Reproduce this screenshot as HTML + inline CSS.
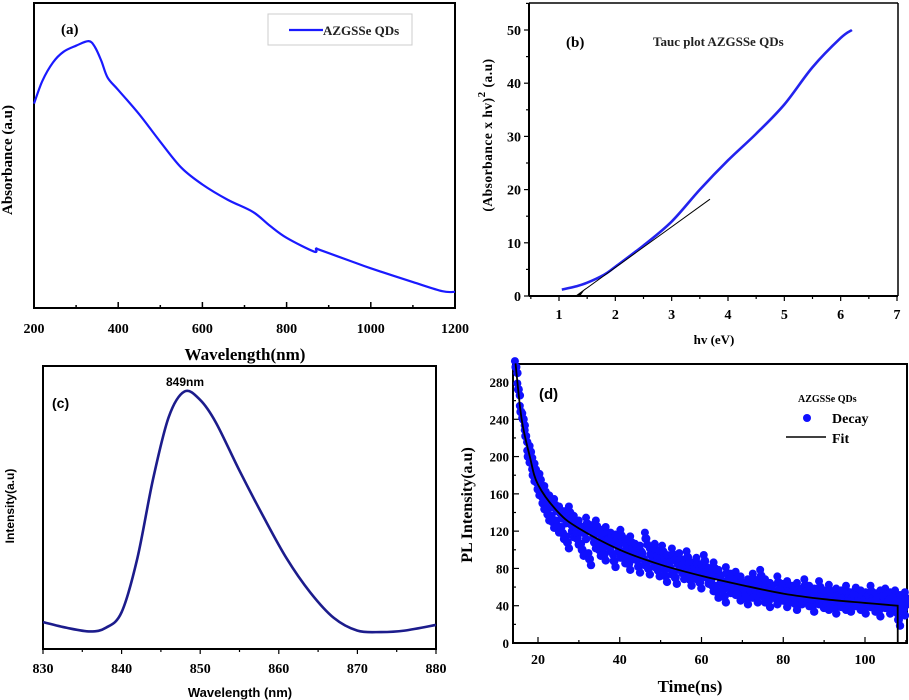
<!DOCTYPE html>
<html><head><meta charset="utf-8"><style>
html,body{margin:0;padding:0;background:#fff;}
svg{display:block;font-family:"Liberation Serif",serif;}
</style></head><body>
<svg id="fig" width="909" height="700" viewBox="0 0 909 700"></svg>
<script>
// ---- Panel (a) data ----
const absWavelengths=[200,220,245,270,300,330,345,360,375,400,450,500,550,600,660,720,760,800,865,870,880,950,1000,1100,1170,1200];
const absValues=[67,74.5,80.5,84,86,87.5,85.5,81,75.5,71.5,63.5,54.5,46,40.5,35.5,31.5,27,23,18.5,19.5,19,15.5,13,8.5,5.5,5.3];
const absXTicks=[200,400,600,800,1000,1200];
// ---- Panel (b) data ----
const taucX=[1.05,1.3,1.5,1.8,2.0,2.5,3.0,3.5,4.0,4.5,5.0,5.5,6.0,6.2];
const taucY=[1.2,1.8,2.5,4,5.5,9.5,14,20,25.5,30.5,36,43,48.5,50];
const tangentX=[1.3,3.68];
const tangentY=[0,18.2];
const taucXTicks=[1,2,3,4,5,6,7];
const taucYTicks=[0,10,20,30,40,50];
// ---- Panel (c) data ----
const plWavelengths=[830,833,836,838,840,842,844,846,848,850,852,855,858,861,864,867,870,873,876,880];
const plValues=[9.5,7.5,6.2,7.5,13,32,60,82,91,88,80,63,47,32,20,11,6.5,6,6.5,8.5];
const plXTicks=[830,840,850,860,870,880];
// ---- Panel (d) data ----
const decayTimes=[];
const decayValues=[296,272,248,240,222,200,205,180,186,165,
175,150,162,138,152,130,148,125,140,118,
135,108,140,120,130,112,125,100,118,128,
90,120,108,125,100,115,95,118,105,112,
88,110,98,115,92,105,85,108,96,100,
82,98,90,112,80,95,88,100,78,92,
98,72,88,80,95,70,85,90,75,82,
92,68,80,75,85,65,78,88,70,74,
62,80,55,72,66,50,75,60,68,58,
70,52,65,58,48,62,55,68,50,60,
72,50,62,45,58,55,48,65,52,57,
45,60,50,55,42,58,48,52,62,46,
55,40,52,48,60,44,50,42,56,47,
38,52,45,50,42,55,40,48,46,53,
42,50,38,48,45,55,40,47,35,50,
44,52,38,48,42,50,25,45,36,48];
for(let i=0;i<decayValues.length;i++){decayTimes.push(+(14.6+0.6*i).toFixed(2));}
const fitTimes=[14.5,16,18,20,25,30,40,50,60,70,80,90,100,108,108.01];
const fitValues=[300,240,200,170,140,123,100,84,72,62,53,47,43,40,0];
const decayXTicks=[20,40,60,80,100];
const decayYTicks=[0,40,80,120,160,200,240,280];

const NS="http://www.w3.org/2000/svg";
const svg=document.getElementById('fig');
function mk(tag,attrs,parent){const e=document.createElementNS(NS,tag);for(const k in attrs)e.setAttribute(k,attrs[k]);(parent||svg).appendChild(e);return e;}
function txt(s,attrs,parent){const e=mk('text',attrs,parent);e.textContent=s;return e;}
function lin(d0,d1,r0,r1){return v=>r0+(v-d0)/(d1-d0)*(r1-r0);}
function smooth(pts){let d='M'+pts[0][0]+','+pts[0][1];for(let i=0;i<pts.length-1;i++){const p0=pts[Math.max(0,i-1)],p1=pts[i],p2=pts[i+1],p3=pts[Math.min(pts.length-1,i+2)];const c1x=p1[0]+(p2[0]-p0[0])/6,c1y=p1[1]+(p2[1]-p0[1])/6,c2x=p2[0]-(p3[0]-p1[0])/6,c2y=p2[1]-(p3[1]-p1[1])/6;d+=' C'+c1x+','+c1y+' '+c2x+','+c2y+' '+p2[0]+','+p2[1];}return d;}

// ================= Panel (a) =================
{
const g=mk('g',{});


const L=34,R=455,T=3,B=308;
const x=lin(200,1200,L,R), y=lin(0,100,B,T);
const f=mk('rect',{x:L,y:T,width:R-L,height:B-T,fill:'none',stroke:'#000','stroke-width':2},g);

for(let v=200;v<=1200;v+=100){const t=mk('line',{x1:x(v),x2:x(v),y1:B,y2:B-(v%200===0?6:3),stroke:'#000','stroke-width':1.5},g);}
absXTicks.forEach(v=>{const t=txt(v,{x:x(v),y:333,'text-anchor':'middle','font-size':14,'font-weight':'bold'},g);});
const p=mk('path',{d:smooth(absWavelengths.map((w,i)=>[x(w),y(absValues[i])])),fill:'none',stroke:'#1a1aff','stroke-width':2.2},g);

const lb=mk('rect',{x:268,y:14,width:144,height:31,fill:'#fff',stroke:'#ccc','stroke-width':1},g);

const ll=mk('line',{x1:289,x2:323,y1:30,y2:30,stroke:'#1a1aff','stroke-width':2.2},g);

const lt=txt('AZGSSe QDs',{x:323,y:35,'font-size':13,'font-weight':'bold',fill:'#222'},g);

const pl=txt('(a)',{x:61,y:34,'font-size':15,'font-weight':'bold'},g);

const xt=txt('Wavelength(nm)',{x:245,y:360,'text-anchor':'middle','font-size':17,'font-weight':'bold'},g);

const yt=txt('Absorbance (a.u)',{x:0,y:0,'text-anchor':'middle','font-size':15,'font-weight':'bold',transform:'translate(12,160) rotate(-90)'},g);

}

// ================= Panel (b) =================
{
const g=mk('g',{});


const L=529,R=898,T=3,B=296;
const x=lin(1,7,559,897), y=lin(0,50,B,30);
mk('line',{x1:L,x2:R,y1:T,y2:T,stroke:'#000','stroke-width':1.5},g);
mk('line',{x1:R,x2:R,y1:T,y2:B,stroke:'#000','stroke-width':1.5},g);
const ax=mk('line',{x1:L,x2:R,y1:B,y2:B,stroke:'#000','stroke-width':2},g);

const ay=mk('line',{x1:L,x2:L,y1:T,y2:B,stroke:'#000','stroke-width':2},g);

for(let v=0.5;v<=7;v+=0.5){if(x(v)<L)continue;mk('line',{x1:x(v),x2:x(v),y1:B,y2:B+(v%1===0?5:3),stroke:'#000','stroke-width':1.2},g);}
for(let v=0;v<=55;v+=5){mk('line',{x1:L,x2:L-(v%10===0?5:3),y1:y(v),y2:y(v),stroke:'#000','stroke-width':1.2},g);}
taucXTicks.forEach(v=>{const t=txt(v,{x:x(v),y:319,'text-anchor':'middle','font-size':14,'font-weight':'bold'},g);});
taucYTicks.forEach(v=>{const t=txt(v,{x:L-8,y:y(v)+5,'text-anchor':'end','font-size':14,'font-weight':'bold'},g);});
const p=mk('path',{d:smooth(taucX.map((v,i)=>[x(v),y(taucY[i])])),fill:'none',stroke:'#2323ee','stroke-width':2.6},g);

const tl=mk('line',{x1:x(tangentX[0]),y1:y(tangentY[0]),x2:x(tangentX[1]),y2:y(tangentY[1]),stroke:'#000','stroke-width':1},g);

const ah=mk('polygon',{points:`${x(tangentX[0])},${y(0)} ${x(tangentX[0])+10},${y(0)-8} ${x(tangentX[0])+5},${y(0)-1}`,fill:'#000'},g);

const pl=txt('(b)',{x:566,y:47,'font-size':15,'font-weight':'bold'},g);

const tt=txt('Tauc plot AZGSSe QDs',{x:653,y:46,'font-size':13,'font-weight':'bold',fill:'#222'},g);

const xt=txt('hv (eV)',{x:714,y:344,'text-anchor':'middle','font-size':13,'font-weight':'bold'},g);

const yt=txt('',{x:0,y:0,'text-anchor':'middle','font-size':13.5,'font-weight':'bold','letter-spacing':'0.5',transform:'translate(492,135) rotate(-90)'},g);

const s1=mk('tspan',{},yt);s1.textContent='(Absorbance x hv)';
const s2=mk('tspan',{dy:-7,'font-size':11},yt);s2.textContent='2';
const s3=mk('tspan',{dy:7},yt);s3.textContent='  (a.u)';
}

// ================= Panel (c) =================
{
const g=mk('g',{});


const L=43,R=436,T=366,B=649;
const x=lin(830,880,L,R), y=lin(0,100,B,T);
const f=mk('rect',{x:L,y:T,width:R-L,height:B-T,fill:'none',stroke:'#000','stroke-width':2},g);

for(let v=830;v<=880;v+=5){mk('line',{x1:x(v),x2:x(v),y1:B,y2:B+(v%10===0?5:3),stroke:'#000','stroke-width':1.2},g);}
plXTicks.forEach(v=>{const t=txt(v,{x:x(v),y:673,'text-anchor':'middle','font-size':14,'font-weight':'bold'},g);});
const p=mk('path',{d:smooth(plWavelengths.map((w,i)=>[x(w),y(plValues[i])])),fill:'none',stroke:'#1c1c8c','stroke-width':2.6},g);

const sf='"Liberation Sans",sans-serif';
const pk=txt('849nm',{x:185,y:386,'text-anchor':'middle','font-size':12,'font-weight':'bold','font-family':sf},g);

const pl=txt('(c)',{x:52,y:408,'font-size':14,'font-weight':'bold','font-family':sf},g);

const xt=txt('Wavelength (nm)',{x:240,y:697,'text-anchor':'middle','font-size':13,'font-weight':'bold','font-family':sf},g);

const yt=txt('Intensity(a.u)',{x:0,y:0,'text-anchor':'middle','font-size':12,'font-weight':'bold','font-family':sf,transform:'translate(14,506) rotate(-90)'},g);

}

// ================= Panel (d) =================
{
const g=mk('g',{});


const L=513,R=907,T=364,B=643;
const x=lin(20,100,538,865), y=lin(0,280,B,382);
const f=mk('rect',{x:L,y:T,width:R-L,height:B-T,fill:'none',stroke:'#000','stroke-width':2},g);

for(let v=20;v<=110;v+=10){mk('line',{x1:x(v),x2:x(v),y1:B,y2:B-(v%20===0?6:3),stroke:'#000','stroke-width':1.2},g);}
for(let v=0;v<=290;v+=20){mk('line',{x1:L,x2:L+(v%40===0?6:3),y1:y(v),y2:y(v),stroke:'#000','stroke-width':1.2},g);}
decayXTicks.forEach(v=>{const t=txt(v,{x:x(v),y:664,'text-anchor':'middle','font-size':14,'font-weight':'bold'},g);});
decayYTicks.forEach(v=>{const t=txt(v,{x:L-4,y:y(v)+5,'text-anchor':'end','font-size':13,'font-weight':'bold'},g);});
const cg=mk('g',{},g);

decayTimes.forEach((t,i)=>{const c=mk('circle',{cx:x(t),cy:y(decayValues[i]),r:4.5,fill:'#1010ff'},cg);
const c2=mk('circle',{cx:x(t)+1.5,cy:y(decayValues[i])+6,r:4.2,fill:'#1010ff'},cg);
const c3=mk('circle',{cx:x(t)-1,cy:y(decayValues[i])-6,r:4,fill:'#1010ff'},cg);});
const fp=mk('path',{d:smooth(fitTimes.slice(0,-1).map((t,i)=>[x(t),y(fitValues[i])]))+' L'+x(fitTimes[fitTimes.length-1])+','+y(fitValues[fitValues.length-1]),fill:'none',stroke:'#000','stroke-width':1.8},g);

const pl=txt('(d)',{x:539,y:399,'font-size':15,'font-weight':'bold','font-family':'"Liberation Sans",sans-serif'},g);

const lg=txt('AZGSSe QDs',{x:798,y:402,'font-size':10,'font-weight':'bold'},g);

const ld=mk('circle',{cx:807,cy:418,r:4,fill:'#1010ff'},g);

const ldt=txt('Decay',{x:832,y:423,'font-size':14,'font-weight':'bold'},g);

const lf=mk('line',{x1:786,x2:826,y1:437,y2:437,stroke:'#000','stroke-width':1.5},g);

const lft=txt('Fit',{x:832,y:443,'font-size':14,'font-weight':'bold'},g);

const xt=txt('Time(ns)',{x:690,y:692,'text-anchor':'middle','font-size':17,'font-weight':'bold'},g);

const yt=txt('PL Intensity(a.u)',{x:0,y:0,'text-anchor':'middle','font-size':16,'font-weight':'bold',transform:'translate(472,505) rotate(-90)'},g);

}
</script>
</body></html>
